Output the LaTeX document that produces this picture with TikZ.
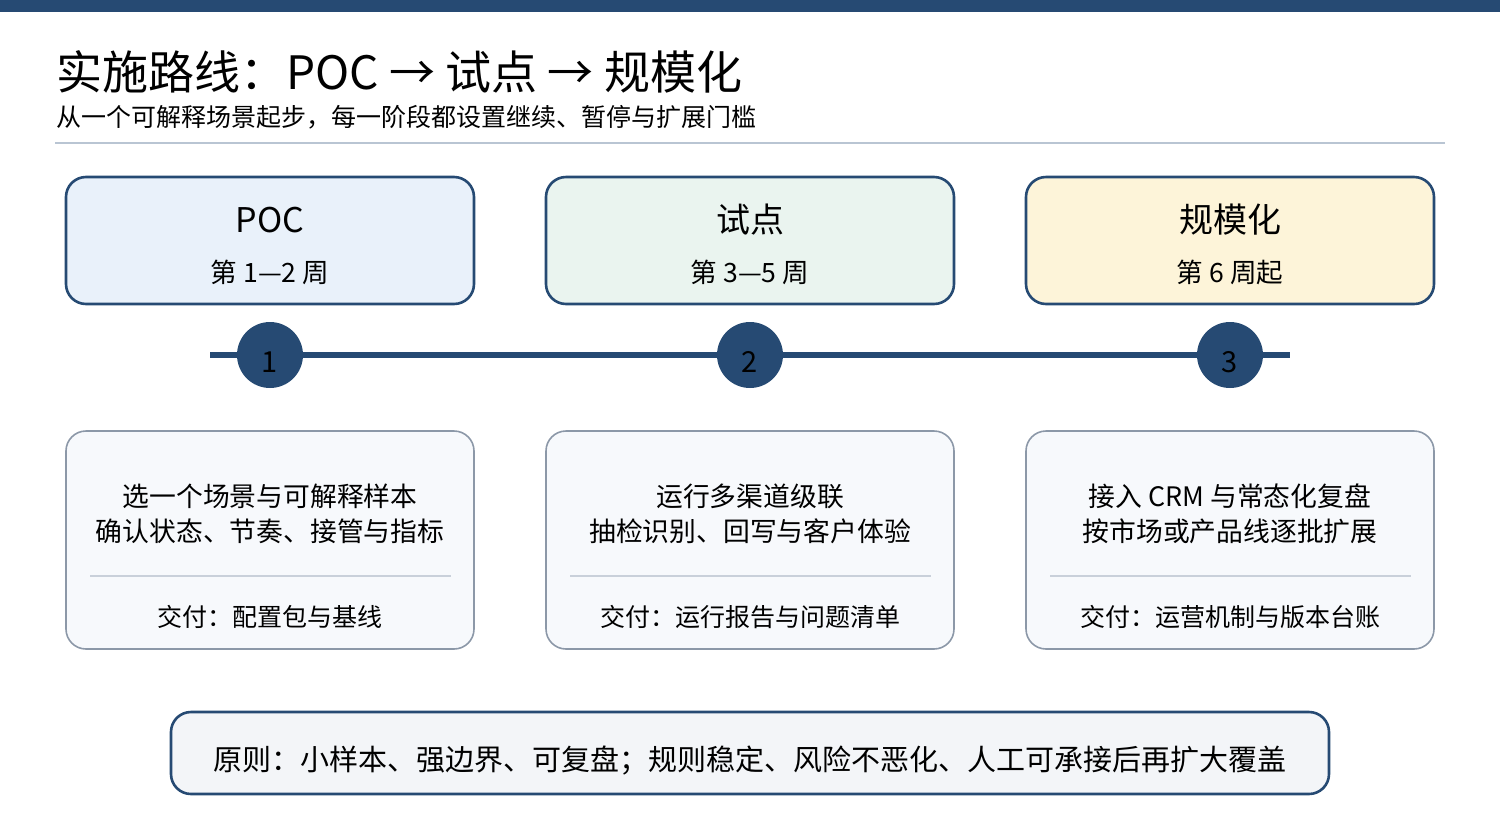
\documentclass[tikz,border=0pt]{standalone}
\usepackage{fontspec}
\setmainfont{Noto Sans CJK SC}
\begin{document}
\begin{tikzpicture}[x=0.5pt,y=-0.5pt,
  topcard/.style={draw=navy, line width=1.3pt, rounded corners=10pt},
  botcard/.style={draw=graybd, line width=0.8pt, rounded corners=10pt, fill=cardbg},
  dot/.style={circle, fill=navy, minimum size=33pt, inner sep=0pt},
  num/.style={inner sep=0pt, font=\fontsize{14.5}{17}\selectfont, text=black},
  ctitle/.style={font=\fontsize{17}{20}\selectfont, text=black},
  cweek/.style={font=\fontsize{13.3}{16}\selectfont, text=black},
  cbody/.style={font=\fontsize{13.4}{17.5}\selectfont, align=center, text=black},
  cdel/.style={font=\fontsize{12.5}{16}\selectfont, align=center, text=black},
]
\definecolor{navy}{HTML}{264A73}
\definecolor{graybd}{HTML}{8C98A8}
\definecolor{cardbg}{HTML}{F7F9FC}
\definecolor{rulec}{HTML}{B9C5D3}
\definecolor{divc}{HTML}{C9D0DA}
\definecolor{fillA}{HTML}{E9F1FA}
\definecolor{fillB}{HTML}{EAF4EF}
\definecolor{fillC}{HTML}{FDF4D9}
\definecolor{pbg}{HTML}{F3F5F8}
\useasboundingbox (0,0) rectangle (1500,820);
\fill[white] (0,0) rectangle (1500,820);
\fill[navy] (0,0) rectangle (1500,12);
% title
\node[anchor=west, inner sep=0pt, font=\fontsize{23}{28}\selectfont] (title) at (56,72) {实施路线：POC → 试点 → 规模化};
\node[anchor=west, inner sep=0pt, font=\fontsize{12.5}{15}\selectfont] (sub) at (56,117) {从一个可解释场景起步，每一阶段都设置继续、暂停与扩展门槛};
\draw[rulec, line width=1pt] (55,143) -- (1445,143);
% top cards
\foreach \i/\cx/\f/\t/\w in {1/270/fillA/POC/第 1—2 周, 2/750/fillB/试点/第 3—5 周, 3/1230/fillC/规模化/第 6 周起}{
  \draw[topcard, fill=\f] (\cx-204,177) rectangle (\cx+204,304);
  \node[ctitle] (t\i) at (\cx,220) {\t};
  \node[cweek] (w\i) at (\cx,272) {\w};
}
% timeline
\coordinate (ls) at (210,355);
\coordinate (le) at (1290,355);
\draw[navy, line width=3pt] (ls) -- (le);
\foreach \i/\cx in {1/270,2/750,3/1230}{
  \node[dot] (d\i) at (\cx,355) {};
  \node[num] (n\i) at (\cx,362) {\i};
}
% bottom cards
\foreach \i/\cx/\a/\b/\c in {
  1/270/选一个场景与可解释样本/确认状态、节奏、接管与指标/交付：配置包与基线,
  2/750/运行多渠道级联/抽检识别、回写与客户体验/交付：运行报告与问题清单,
  3/1230/接入 CRM 与常态化复盘/按市场或产品线逐批扩展/交付：运营机制与版本台账}{
  \draw[botcard] (\cx-204,431) rectangle (\cx+204,649);
  \node[cbody] (b\i) at (\cx,514) {\a\\\b};
  \draw[divc, line width=0.9pt] (\cx-180,576) -- (\cx+181,576);
  \node[cdel] (e\i) at (\cx,617) {\c};
}
% principle
\draw[draw=navy, line width=1.3pt, rounded corners=10pt, fill=pbg] (171,712) rectangle (1329,794);
\node[font=\fontsize{14.5}{17}\selectfont] (p) at (750,760) {原则：小样本、强边界、可复盘；规则稳定、风险不恶化、人工可承接后再扩大覆盖};
\end{tikzpicture}
\end{document}
